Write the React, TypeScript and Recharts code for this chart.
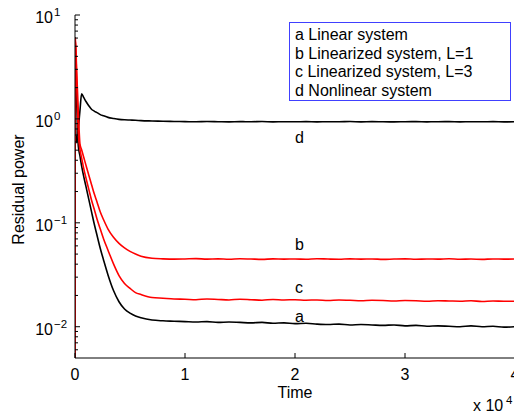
import React from "react";
import { LineChart, Line, XAxis, YAxis, ReferenceDot, Label } from "recharts";

const FONT = '"Liberation Sans", Arial, Helvetica, sans-serif';

// time samples, shared by all four series
const times = [
  0, 30, 150, 300, 450, 600, 800, 1000, 1250, 1500, 1750, 2000, 2300, 2600, 3000, 3500, 4000, 4500, 5000, 5500, 6000, 7000, 8000, 9000,
  10000, 11000, 12000, 13000, 14000, 15000, 16000, 17000, 18000, 19000, 20000, 21000, 22000, 23000, 24000, 25000,
  26000, 27000, 28000, 29000, 30000, 31000, 32000, 33000, 34000, 35000, 36000, 37000, 38000, 39000, 40000,
];

// a - linear system (black)
const linearSys = [
  6.1, 4.6, 1.5, 0.548, 0.44, 0.354, 0.277, 0.223, 0.169, 0.128, 0.0973, 0.076, 0.0566, 0.0437, 0.0315, 0.0223, 0.0174, 0.0148, 0.0135, 0.0127, 0.0122, 0.0116, 0.0114, 0.0113,
  0.0112, 0.0111, 0.0112, 0.011, 0.0111, 0.011, 0.0109, 0.011, 0.0108, 0.0109, 0.0107, 0.0108, 0.0106, 0.0105, 0.0106, 0.0104,
  0.0105, 0.0104, 0.0103, 0.0104, 0.0102, 0.0103, 0.0101, 0.0102, 0.0101, 0.01, 0.0102, 0.01, 0.0101, 0.0099, 0.01,
];

// b - linearized system, L=1 (red)
const linearizedL1 = [
  0.001, 6.0, 2.94, 1.2, 0.575, 0.505, 0.425, 0.357, 0.288, 0.234, 0.19, 0.159, 0.127, 0.107, 0.0871, 0.0726, 0.0635, 0.0574, 0.0531, 0.05, 0.0477, 0.0456, 0.045, 0.0447,
  0.0449, 0.0452, 0.0447, 0.045, 0.0446, 0.0451, 0.0448, 0.0445, 0.045, 0.0447, 0.0449, 0.0446, 0.0451, 0.0448, 0.0446, 0.045,
  0.0447, 0.0449, 0.0445, 0.0448, 0.045, 0.0446, 0.0449, 0.0447, 0.0451, 0.0446, 0.0448, 0.0445, 0.0449, 0.0447, 0.0448,
];

// c - linearized system, L=3 (red)
const linearizedL3 = [
  0.001, 6.0, 2.37, 0.74, 0.508, 0.422, 0.33, 0.269, 0.211, 0.166, 0.135, 0.109, 0.0871, 0.07, 0.0545, 0.0403, 0.0311, 0.0261, 0.0234, 0.0213, 0.0204, 0.0191, 0.0188, 0.0185,
  0.0184, 0.0182, 0.0185, 0.0183, 0.0181, 0.0184, 0.0182, 0.018, 0.0183, 0.0181, 0.0182, 0.018, 0.0181, 0.0179, 0.0181, 0.018,
  0.0178, 0.018, 0.0179, 0.0177, 0.0179, 0.0178, 0.0176, 0.0178, 0.0177, 0.0176, 0.0178, 0.0175, 0.0177, 0.0176, 0.0176,
];

// d - nonlinear system (black)
const nonlinearSys = [
  1.3, 1.0, 0.59, 0.8, 1.2, 1.74, 1.6, 1.47, 1.34, 1.24, 1.19, 1.15, 1.1, 1.07, 1.035, 1.01, 0.99, 0.98, 0.975, 0.97, 0.962, 0.955, 0.95, 0.945,
  0.942, 0.938, 0.944, 0.94, 0.936, 0.941, 0.939, 0.943, 0.937, 0.94, 0.938, 0.942, 0.936, 0.94, 0.939, 0.943,
  0.937, 0.941, 0.938, 0.936, 0.94, 0.942, 0.937, 0.939, 0.941, 0.936, 0.94, 0.938, 0.942, 0.937, 0.939,
];

const xTicks = [0, 10000, 20000, 30000, 40000];
const yTicks = [
  0.006, 0.007, 0.008, 0.009, 0.01, 0.02, 0.03, 0.04, 0.05, 0.06, 0.07, 0.08, 0.09,
  0.1, 0.2, 0.3, 0.4, 0.5, 0.6, 0.7, 0.8, 0.9, 1, 2, 3, 4, 5, 6, 7, 8, 9, 10,
];
const yDomain = [0.005, 10];

// curve annotations, placed at t = 2e4
const annoTime = 20000;
const annoLetters = ["a", "b", "c", "d"];
const annoValues = [0.0124, 0.0611, 0.0236, 0.655];

const legendLines = [
  "a Linear system",
  "b Linearized system, L=1",
  "c Linearized system, L=3",
  "d Nonlinear system",
];

const data = times.map((t, i) => ({
  t,
  a: linearSys[i],
  b: linearizedL1[i],
  c: linearizedL3[i],
  d: nonlinearSys[i],
}));

function isMajor(v: number) {
  const e = Math.log10(v);
  return Math.abs(e - Math.round(e)) < 1e-6;
}

const BottomTick = ({ x, y, payload }: any) => (
  <g>
    <line x1={x} y1={y} x2={x} y2={y - 5} stroke="#000" />
    <text x={x} y={y + 22} textAnchor="middle" fontSize={16} fontFamily={FONT} fill="#000">
      {payload.value / 10000}
    </text>
  </g>
);

const TopTick = ({ x, y }: any) => <line x1={x} y1={y} x2={x} y2={y + 5} stroke="#000" />;

const LeftTick = ({ x, y, payload }: any) => {
  const major = isMajor(payload.value);
  const e = Math.round(Math.log10(payload.value));
  return (
    <g>
      <line x1={x} y1={y} x2={x + (major ? 5 : 3)} y2={y} stroke="#000" />
      {major && (
        <text x={x - 22} y={y + 8} textAnchor="end" fontSize={16} fontFamily={FONT} fill="#000">
          10
        </text>
      )}
      {major && (
        <text x={x - 21} y={y + 1} fontSize={11.5} fontFamily={FONT} fill="#000">
          {e < 0 ? "\u2212" + Math.abs(e) : e}
        </text>
      )}
    </g>
  );
};

const RightTick = ({ x, y, payload }: any) => (
  <line x1={x} y1={y} x2={x - (isMajor(payload.value) ? 5 : 3)} y2={y} stroke="#000" />
);

const renderXTitle = ({ viewBox }: any) => {
  const { x, y, width } = viewBox;
  return (
    <g fontFamily={FONT} fill="#000">
      <text x={x + width / 2} y={y + 40} textAnchor="middle" fontSize={16}>
        Time
      </text>
      <text x={x + width - 42} y={y + 53} fontSize={16}>
        x 10
      </text>
      <text x={x + width - 9} y={y + 46} fontSize={11.5}>
        4
      </text>
    </g>
  );
};

const renderYTitle = ({ viewBox }: any) => {
  const cx = viewBox.x + 24;
  const cy = viewBox.y + viewBox.height / 2 + 3;
  return (
    <text x={cx} y={cy} transform={`rotate(-90 ${cx} ${cy})`} textAnchor="middle" fontSize={16} fontFamily={FONT} fill="#000">
      Residual power
    </text>
  );
};

export default function App() {
  return (
    <div style={{ position: "absolute", left: 0, top: 0, width: 514, height: 411, overflow: "hidden", background: "#fff", fontFamily: FONT }}>
      <LineChart width={520} height={411} data={data} margin={{ top: 15, right: 5, bottom: 0, left: 0 }}>
        <XAxis
          dataKey="t"
          type="number"
          domain={[0, 40000]}
          ticks={xTicks}
          interval={0}
          allowDataOverflow
          height={53}
          tickLine={false}
          tickSize={0}
          tickMargin={0}
          axisLine={{ stroke: "#000" }}
          tick={<BottomTick />}
        >
          <Label content={renderXTitle} />
        </XAxis>
        <XAxis
          xAxisId="top"
          orientation="top"
          type="number"
          domain={[0, 40000]}
          ticks={xTicks}
          interval={0}
          allowDataOverflow
          height={0}
          tickLine={false}
          tickSize={0}
          tickMargin={0}
          axisLine={{ stroke: "#000" }}
          tick={<TopTick />}
        />
        <YAxis
          type="number"
          scale="log"
          domain={yDomain}
          ticks={yTicks}
          interval={0}
          allowDataOverflow
          width={75}
          tickLine={false}
          tickSize={0}
          tickMargin={0}
          axisLine={{ stroke: "#000" }}
          tick={<LeftTick />}
        >
          <Label content={renderYTitle} />
        </YAxis>
        <YAxis
          yAxisId="right"
          orientation="right"
          type="number"
          scale="log"
          domain={yDomain}
          ticks={yTicks}
          interval={0}
          allowDataOverflow
          width={0}
          tickLine={false}
          tickSize={0}
          tickMargin={0}
          axisLine={{ stroke: "#000" }}
          tick={<RightTick />}
        />
        <Line type="monotone" dataKey="a" stroke="#000" strokeWidth={1.6} dot={false} isAnimationActive={false} />
        <Line type="monotone" dataKey="d" stroke="#000" strokeWidth={1.6} dot={false} isAnimationActive={false} />
        <Line type="monotone" dataKey="b" stroke="#ff0000" strokeWidth={1.6} dot={false} isAnimationActive={false} />
        <Line type="monotone" dataKey="c" stroke="#ff0000" strokeWidth={1.6} dot={false} isAnimationActive={false} />
        {annoLetters.map((s, i) => (
          <ReferenceDot
            key={s}
            x={annoTime}
            y={annoValues[i]}
            r={0}
            shape={(p: any) => (
              <text x={p.cx} y={p.cy} dy={5} fontSize={16} fontFamily={FONT} fill="#000">
                {s}
              </text>
            )}
          />
        ))}
      </LineChart>
      <div
        style={{
          position: "absolute",
          left: 289,
          top: 22,
          width: 222,
          height: 79,
          boxSizing: "border-box",
          border: "1px solid #4040ff",
          background: "#fff",
          padding: "3px 0 0 5px",
          fontSize: 16,
          lineHeight: "18.5px",
          color: "#000",
          whiteSpace: "nowrap",
        }}
      >
        {legendLines.map((l) => (
          <div key={l}>{l}</div>
        ))}
      </div>
    </div>
  );
}
